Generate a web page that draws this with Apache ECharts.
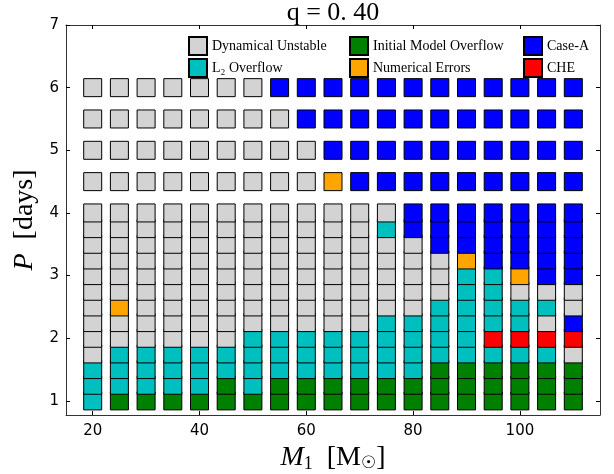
<!DOCTYPE html>
<html>
<head>
<meta charset="utf-8">
<script src="https://cdn.jsdelivr.net/npm/echarts@6/dist/echarts.min.js"></script>
<style>html,body{margin:0;padding:0;background:#fff}#c{width:614px;height:474px}</style>
</head>
<body>
<div id="c"></div>
<script>
// ---- data ----
const masses = [20,25,30,35,40,45,50,55,60,65,70,75,80,85,90,95,100,105,110];
const periods = [1.0,1.25,1.5,1.75,2.0,2.25,2.5,2.75,3.0,3.25,3.5,3.75,4.0,4.5,5.0,5.5,6.0];
// outcome code for each period (bottom to top), one string per mass column
// D=Dynamical Unstable, L=L2 Overflow, I=Initial Model Overflow, N=Numerical Errors, A=Case-A, C=CHE
const outcomes = [
  "LLLDDDDDDDDDD"+"DDDD",
  "ILLLDDNDDDDDD"+"DDDD",
  "ILLLDDDDDDDDD"+"DDDD",
  "ILLLDDDDDDDDD"+"DDDD",
  "ILLLDDDDDDDDD"+"DDDD",
  "IILLDDDDDDDDD"+"DDDD",
  "ILLLLDDDDDDDD"+"DDDD",
  "IILLLDDDDDDDD"+"DDDA",
  "IILLLDDDDDDDD"+"DDAA",
  "IILLLDDDDDDDD"+"NAAA",
  "IILLLDDDDDDDD"+"AAAA",
  "IILLLLDDDDDLD"+"AAAA",
  "IILLLLDDDDDAA"+"AAAA",
  "IIILLLLDDDAAA"+"AAAA",
  "IIILLLLLLNAAA"+"AAAA",
  "IIILCLLLLAAAA"+"AAAA",
  "IIILCLLDNAAAA"+"AAAA",
  "IIILCDLDAAAAA"+"AAAA",
  "IIIDCADDAAAAA"+"AAAA"
];
const categoryCodes = ["D","L","I","N","A","C"];
const categoryNames = ["Dynamical Unstable","L\u2082 Overflow","Initial Model Overflow","Numerical Errors","Case-A","CHE"];
const categoryColors = ["#d3d3d3","#00bfbf","#008000","#ffa500","#0000ff","#ff0000"];
const xTicks = [20,40,60,80,100];
const yTicks = [1,2,3,4,5,6,7];

// ---- build ----
const colorOf = {};
categoryCodes.forEach((c,i)=>colorOf[c]=categoryColors[i]);
const points = [];
masses.forEach((m,ci)=>{
  periods.forEach((p,ri)=>{
    const code = outcomes[ci][ri];
    points.push({value:[m,p], itemStyle:{color:colorOf[code]}});
  });
});

const serif = "Liberation Serif";
const sans = "DejaVu Sans";
const legendSeries = categoryNames.map((n,i)=>({
  name:n, type:'scatter', data:[], symbol:'rect',
  itemStyle:{color:categoryColors[i], borderColor:'#000', borderWidth:1, opacity:1}
}));

const axisCommon = {
  axisLine:{show:true, onZero:false, lineStyle:{color:'#333', width:1}},
  splitLine:{show:false}
};

const legendBase = {
  orient:'vertical', itemWidth:18, itemHeight:18, itemGap:2, icon:'rect',
  selectedMode:false, padding:0,
  textStyle:{fontFamily:serif, fontSize:14, color:'#000'}
};

const chart = echarts.init(document.getElementById('c'), null, {renderer:'canvas'});
chart.setOption({
  animation:false,
  backgroundColor:'#fff',
  grid:{left:66, top:25, right:14, bottom:59, outerBoundsMode:'none', containLabel:false},
  graphic:[{
    type:'text', x:333, y:13,
    style:{text:'q = 0. 40', fontFamily:serif, fontSize:26, fill:'#000', textAlign:'center', textVerticalAlign:'middle'}
  }],
  legend:[
    Object.assign({}, legendBase, {left:188, top:36, data:[categoryNames[0],categoryNames[1]]}),
    Object.assign({}, legendBase, {left:349, top:36, data:[categoryNames[2],categoryNames[3]]}),
    Object.assign({}, legendBase, {left:523, top:36, data:[categoryNames[4],categoryNames[5]]})
  ],
  xAxis:[
    Object.assign({}, axisCommon, {
      type:'value', min:15, max:115, position:'bottom',
      axisTick:{show:true, inside:true, length:4, customValues:xTicks, lineStyle:{color:'#000'}},
      axisLabel:{show:true, margin:9, customValues:xTicks, fontFamily:sans, fontSize:15, color:'#000'},
      name:'{i|M}{s|1}{n|  [M}{sun|\u2609}{n|]}',
      nameLocation:'middle', nameGap:22,
      nameTextStyle:{rich:{
        i:{fontFamily:serif, fontStyle:'italic', fontSize:28, color:'#000'},
        s:{fontFamily:serif, fontSize:18, color:'#000', padding:[12,0,0,0]},
        n:{fontFamily:serif, fontSize:28, color:'#000'},
        sun:{fontFamily:'DejaVu Sans', fontSize:17, color:'#000', padding:[12,0,0,0]}
      }}
    }),
    Object.assign({}, axisCommon, {
      type:'value', min:15, max:115, position:'top',
      axisTick:{show:true, inside:true, length:4, customValues:xTicks, lineStyle:{color:'#000'}},
      axisLabel:{show:false}
    })
  ],
  yAxis:[
    Object.assign({}, axisCommon, {
      type:'value', min:0.775, max:7, position:'left',
      axisTick:{show:true, inside:true, length:4, customValues:yTicks, lineStyle:{color:'#000'}},
      axisLabel:{show:true, margin:7, customValues:yTicks, fontFamily:sans, fontSize:15, color:'#000'},
      name:'{i|P}{n|  [days]}',
      nameLocation:'middle', nameGap:21, nameRotate:90,
      nameTextStyle:{rich:{
        i:{fontFamily:serif, fontStyle:'italic', fontSize:28, color:'#000'},
        n:{fontFamily:serif, fontSize:28, color:'#000'}
      }}
    }),
    Object.assign({}, axisCommon, {
      type:'value', min:0.775, max:7, position:'right',
      axisTick:{show:true, inside:true, length:4, customValues:yTicks, lineStyle:{color:'#000'}},
      axisLabel:{show:false}
    })
  ],
  series:[{
    type:'scatter', name:'grid', symbol:'rect', symbolSize:18,
    xAxisIndex:0, yAxisIndex:0,
    itemStyle:{borderColor:'#000', borderWidth:1, opacity:1},
    emphasis:{disabled:true},
    data:points
  }].concat(legendSeries)
});
</script>
</body>
</html>
